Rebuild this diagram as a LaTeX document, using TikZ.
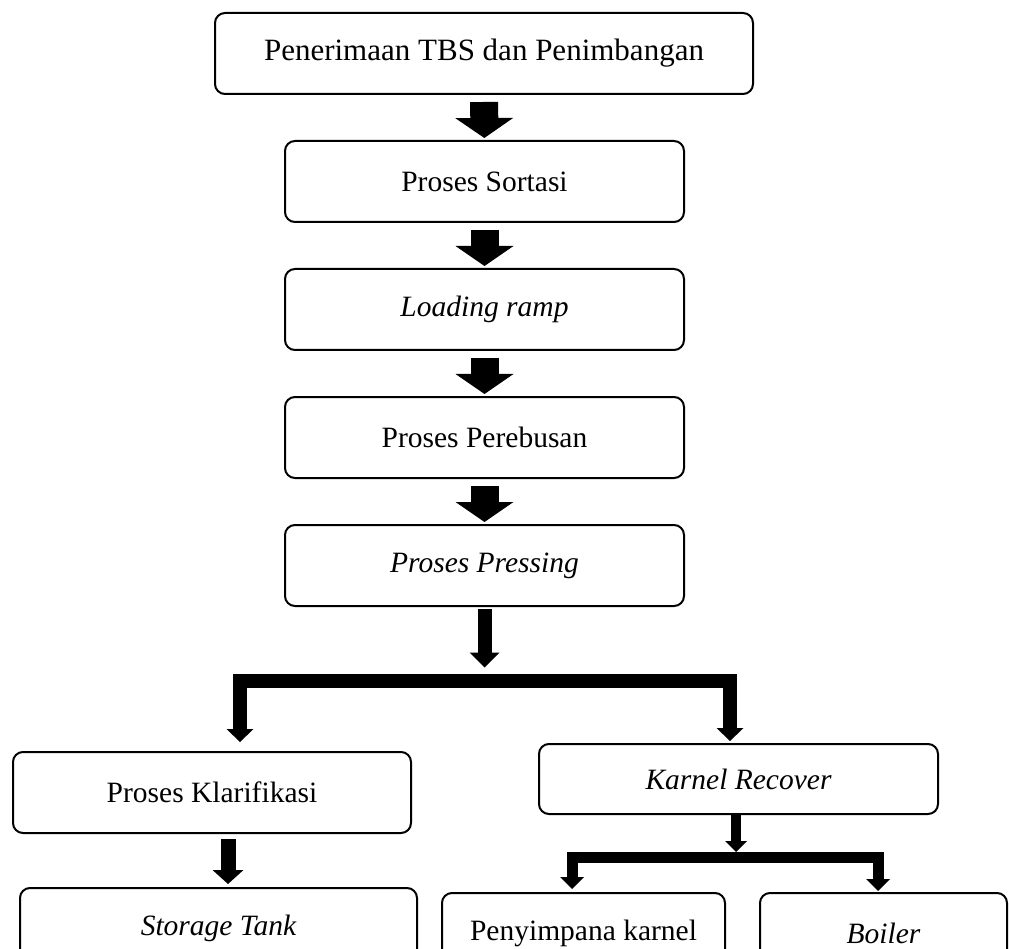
\documentclass[tikz,border=0pt]{standalone}
\usepackage{fontspec}
\setmainfont{Liberation Serif}
\usetikzlibrary{arrows.meta,positioning,calc}
\tikzset{
  box/.style={draw, rounded corners=10pt, line width=2pt, inner sep=0pt,
              align=center, minimum height=81pt, font=\fontsize{29.5}{34}\selectfont},
  ibox/.style={box, font=\fontsize{29.5}{34}\selectfont\itshape},
  bigarrow/.style={-{Triangle[width=58pt, length=20pt, line width=0pt]},
                   line width=28pt, shorten <=7pt, shorten >=2pt},
  midarrow/.style={-{Triangle[width=30pt, length=15pt, line width=0pt]},
                   line width=14pt},
  forkarrow/.style={{Triangle[width=27pt, length=13pt, line width=0pt]}-%
                    {Triangle[width=27pt, length=13pt, line width=0pt]},
                    line width=14pt, line join=miter},
  smallarrow/.style={-{Triangle[width=22pt, length=11pt, line width=0pt]},
                     line width=10pt},
  smallfork/.style={{Triangle[width=24pt, length=12pt, line width=0pt]}-%
                    {Triangle[width=24pt, length=12pt, line width=0pt]},
                    line width=11pt, line join=miter},
}
\begin{document}
\begin{tikzpicture}[x=1pt, y=-1pt]
\useasboundingbox (0,0) rectangle (1009,949);
\clip (0,0) rectangle (1009,949);

% ---------------- main line ----------------
\node[box, minimum width=538pt, font=\fontsize{31}{36}\selectfont] (tbs) at (484,53.5)
  {Penerimaan TBS dan Penimbangan};
\node[box, minimum width=399pt] (sort) at (484.5,181.5) {Proses Sortasi};
\node[ibox, minimum width=399pt] (ramp) at (484.5,309.5) {Loading ramp};
\node[box, minimum width=399pt] (rebus) at (484.5,437.5) {Proses Perebusan};
\node[ibox, minimum width=399pt] (press) at (484.5,565.5) {Proses Pressing};

\draw[bigarrow] (tbs) -- (sort);
\draw[bigarrow] (sort) -- (ramp);
\draw[bigarrow] (ramp) -- (rebus);
\draw[bigarrow] (rebus) -- (press);

% ---------------- first split ----------------
\coordinate (split) at (484.5,673.5);
\coordinate (splitL) at (240,680.5);
\coordinate (splitR) at (730,680.5);

\node[box, minimum width=398pt] (klar) at (212,792.5) {Proses Klarifikasi};
\node[ibox, minimum width=399pt, minimum height=70pt] (karnel) at (738.5,779)
  {Karnel Recover};

\draw[midarrow, shorten <=2pt, shorten >=6pt] (press) -- (split);
\draw[forkarrow, shorten <=9pt, shorten >=2pt]
  (klar.north -| splitL) -- (splitL) -- (splitR) -- (karnel.north -| splitR);

% ---------------- bottom row ----------------
\node[ibox, minimum width=397pt] (tank) at (218.5,928.5) {Storage Tank};
\node[box, minimum width=283pt] (simpan) at (583.5,933.5) {Penyimpana karnel};
\node[ibox, minimum width=247pt] (boiler) at (883.5,933.5) {Boiler};

\draw[-{Triangle[width=31pt, length=14pt, line width=0pt]}, line width=15pt,
      shorten <=5pt, shorten >=3pt]
  ([xshift=16pt]klar.south) -- ([xshift=16pt]klar.south |- tank.north);

\coordinate (split2) at (736,852);
\coordinate (split2L) at (572,857.5);
\coordinate (split2R) at (878,857.5);
\draw[smallarrow] (karnel.south -| split2) -- (split2);
\draw[smallfork, shorten <=3pt, shorten >=1pt]
  (simpan.north -| split2L) -- (split2L) -- (split2R) -- (boiler.north -| split2R);
\end{tikzpicture}
\end{document}
